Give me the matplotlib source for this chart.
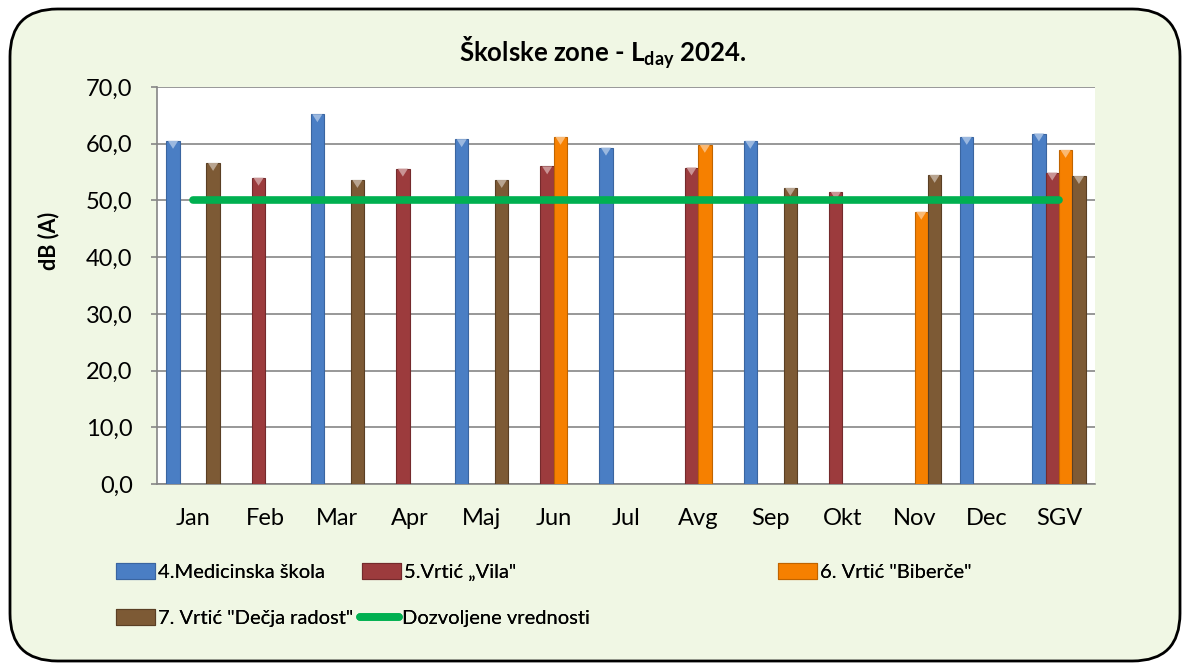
import numpy as np
import matplotlib
matplotlib.use("Agg")
import matplotlib.pyplot as plt
from matplotlib.patches import FancyBboxPatch, Polygon
from matplotlib.colors import to_rgb
from matplotlib.ticker import FuncFormatter, MultipleLocator

plt.rcParams['font.family'] = ['Lato', 'DejaVu Sans']
plt.rcParams['mathtext.fontset'] = 'custom'
plt.rcParams['mathtext.rm'] = 'Lato'
plt.rcParams['mathtext.bf'] = 'Lato:bold'

months = ["Jan", "Feb", "Mar", "Apr", "Maj", "Jun", "Jul", "Avg", "Sep", "Okt", "Nov", "Dec", "SGV"]
nan = np.nan
medicinska = [60.5, nan, 65.2, nan, 60.8, nan, 59.3, nan, 60.5, nan, nan, 61.2, 61.8]
vila = [nan, 54.0, nan, 55.6, nan, 56.0, nan, 55.8, nan, 51.5, nan, nan, 54.9]
biberce = [nan, nan, nan, nan, nan, 61.2, nan, 59.8, nan, nan, 48.0, nan, 58.9]
decja = [56.6, nan, 53.6, nan, 53.6, nan, nan, nan, 52.2, nan, 54.5, nan, 54.3]
dozvoljene = [50.0] * 13

series_names = ["4.Medicinska škola", "5.Vrtić „Vila\"", "6. Vrtić \"Biberče\"", "7. Vrtić \"Dečja radost\""]
line_name = "Dozvoljene vrednosti"
colors = ["#4A7EC4", "#9C3B3D", "#F68000", "#7D5A35"]
edges = ["#3A65A0", "#742A2C", "#C06400", "#5A3F24"]


def lighten(c, f):
    r = np.array(to_rgb(c))
    return tuple(r + (1 - r) * f)


fig = plt.figure(figsize=(11.89, 6.72), dpi=100)
bg = "#F0F7E4"
fig.patch.set_facecolor("white")
frame = FancyBboxPatch((10/1189, 11/672), 1170/1189, 652/672,
                       boxstyle="round,pad=0,rounding_size=0.04",
                       transform=fig.transFigure, facecolor=bg, edgecolor="black",
                       linewidth=2, zorder=-10, mutation_aspect=1189/672)
fig.patches.append(frame)

ax = fig.add_axes([157/1189, 1 - 484/672, (1095 - 157)/1189, (484 - 87)/672])
ax.set_zorder(5)
ax.set_facecolor("white")

x = np.arange(len(months))
w = 0.185
data = [medicinska, vila, biberce, decja]
bar_handles = []
for i, (vals, c, ec, name) in enumerate(zip(data, colors, edges, series_names)):
    off = (i - 1.5) * w
    b = ax.bar(x + off, vals, width=w, color=c, edgecolor=ec, linewidth=0.8, label=name, zorder=3)
    bar_handles.append(b)
    # small bevel cap (derived from each bar's geometry)
    for r in b.patches:
        hgt = r.get_height()
        if not np.isfinite(hgt):
            continue
        x0 = r.get_x()
        bw = r.get_width()
        top = r.get_y() + hgt
        capd = 1.4
        tri = Polygon([[x0 + bw * 0.12, top], [x0 + bw * 0.88, top], [x0 + bw * 0.5, top - capd]],
                      closed=True, facecolor=lighten(c, 0.45), edgecolor="none", zorder=3.5)
        ax.add_patch(tri)

ln, = ax.plot(x, dozvoljene, color="#00B050", linewidth=5.5, solid_capstyle="round",
              label=line_name, zorder=4)

ax.set_xlim(-0.5, len(months) - 0.5)
ax.set_ylim(0, 70)
ax.yaxis.set_major_locator(MultipleLocator(10))
ax.yaxis.set_major_formatter(FuncFormatter(lambda v, p: f"{v:.1f}".replace(".", ",")))
ax.set_xticks(x)
ax.set_xticklabels(months)
ax.tick_params(axis="x", length=0, pad=17, labelsize=17)
ax.tick_params(axis="y", length=4.5, width=1.2, color="#868686", pad=13, labelsize=17)
ax.grid(axis="y", color="#868686", linewidth=1.2, zorder=1)
for s in ["top", "right"]:
    ax.spines[s].set_visible(False)
for s in ["left", "bottom"]:
    ax.spines[s].set_color("#868686")
    ax.spines[s].set_linewidth(1.2)

fig.text(49/1189, 1 - 241/672, "dB (A)", rotation=90, ha="center", va="center",
         fontsize=15.5, fontweight="bold")
fig.text(603/1189, 1 - 53/672, r"Školske zone - L$_{\mathbf{day}}$ 2024.", ha="center", va="center",
         fontsize=18.5, fontweight="bold")

# legend items placed like the reference (row-wise, uneven columns)
items = [
    (bar_handles[0], series_names[0], 116, 572),
    (bar_handles[1], series_names[1], 362, 572),
    (bar_handles[2], series_names[2], 778, 572),
    (bar_handles[3], series_names[3], 116, 618),
    (ln, line_name, 360, 618),
]
for hdl, lab, px, py in items:
    lg = fig.legend([hdl], [lab], loc="center left", bbox_to_anchor=(px/1189, 1 - py/672),
                    frameon=False, fontsize=14.5, handlelength=1.95, handleheight=0.8,
                    handletextpad=0.15, borderpad=0, borderaxespad=0)
    fig.add_artist(lg)

fig.savefig("out.png", dpi=100, facecolor=fig.get_facecolor())
